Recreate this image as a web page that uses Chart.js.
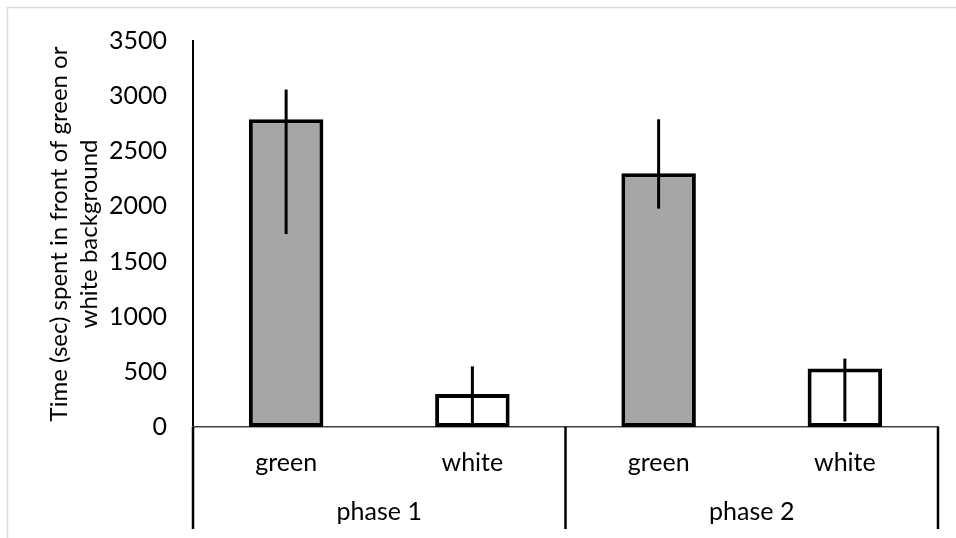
<!DOCTYPE html>
<html lang="en">
<head>
    <meta charset="UTF-8">
    <title>Time spent in front of green or white background</title>
    <script src="https://cdn.jsdelivr.net/npm/chart.js"></script>
    <style>
        body {
            margin: 0;
            background: #fff;
        }
        #chartBox {
            width: 956px;
            height: 538px;
        }
    </style>
</head>
<body>
    <div id="chartBox"><canvas id="bgChart"></canvas></div>

    <script>
        // data
        const categories = ['green', 'white', 'green', 'white'];
        const phases = ['phase 1', 'phase 2'];
        const meanTime = [2790, 300, 2300, 530];
        const errLow = [1750, 0, 1980, 50];
        const errHigh = [3060, 550, 2790, 620];
        const yTicks = [0, 500, 1000, 1500, 2000, 2500, 3000, 3500];
        const yTitle = ['Time (sec) spent in front of green or', 'white background'];

        const barColors = categories.map(c => c === 'green' ? '#a6a6a6' : '#ffffff');
        const font = { family: 'Lato', size: 25 };

        // light grey frame of the chart area
        const framePlugin = {
            id: 'frame',
            beforeDraw(chart) {
                const c = chart.ctx;
                c.save();
                c.fillStyle = '#fff';
                c.fillRect(0, 0, chart.width, chart.height);
                c.strokeStyle = '#d9d9d9';
                c.lineWidth = 1.5;
                c.strokeRect(7.5, 7.5, chart.width + 20, chart.height + 20);
                c.restore();
            }
        };

        // vertical error lines, no caps
        const errorPlugin = {
            id: 'errorLines',
            afterDatasetsDraw(chart) {
                const c = chart.ctx;
                const x = chart.scales.x, y = chart.scales.y;
                c.save();
                c.strokeStyle = '#000';
                c.lineWidth = 3;
                meanTime.forEach((v, i) => {
                    const px = x.getPixelForValue(i);
                    c.beginPath();
                    c.moveTo(px, y.getPixelForValue(errLow[i]));
                    c.lineTo(px, y.getPixelForValue(errHigh[i]));
                    c.stroke();
                });
                c.restore();
            }
        };

        // group separators under the axis (phase 1 | phase 2)
        const groupPlugin = {
            id: 'groups',
            afterDraw(chart) {
                const c = chart.ctx;
                const x = chart.scales.x;
                const top = chart.chartArea.bottom;
                const bottom = chart.scales.x2.bottom - 9;
                const per = categories.length / phases.length;
                const xs = [x.left];
                for (let g = 1; g < phases.length; g++) {
                    xs.push((x.getPixelForValue(g * per - 1) + x.getPixelForValue(g * per)) / 2);
                }
                xs.push(x.right);
                c.save();
                c.strokeStyle = '#000';
                c.lineWidth = 2.5;
                xs.forEach(px => {
                    c.beginPath();
                    c.moveTo(px, top);
                    c.lineTo(px, bottom);
                    c.stroke();
                });
                c.restore();
            }
        };

        const ctx = document.getElementById('bgChart').getContext('2d');
        new Chart(ctx, {
            type: 'bar',
            data: {
                labels: categories,
                datasets: [{
                    data: meanTime,
                    backgroundColor: barColors,
                    borderColor: '#000',
                    borderWidth: 4,
                    borderSkipped: false,
                    barPercentage: 0.4,
                    categoryPercentage: 1
                }]
            },
            options: {
                responsive: true,
                maintainAspectRatio: false,
                animation: false,
                layout: { padding: { top: 37, right: 18, left: 0, bottom: 0 } },
                plugins: {
                    legend: { display: false },
                    tooltip: { enabled: false }
                },
                scales: {
                    y: {
                        min: yTicks[0],
                        max: yTicks[yTicks.length - 1],
                        afterBuildTicks: s => { s.ticks = yTicks.map(v => ({ value: v })); },
                        afterFit: s => { s.width = 193; },
                        grid: { display: false, drawTicks: false },
                        border: { display: true, color: '#000', width: 2 },
                        ticks: { color: '#000', font: font, padding: 26, callback: v => String(v) },
                        title: {
                            display: true,
                            text: yTitle,
                            color: '#000',
                            font: { family: 'Lato', size: 24, lineHeight: 1.25 },
                            padding: { top: 44, bottom: 0 }
                        }
                    },
                    x: {
                        weight: 0,
                        afterFit: s => { s.height = 52; },
                        grid: { display: false, drawTicks: false },
                        border: { display: true, color: '#404040', width: 1.5 },
                        ticks: { color: '#000', font: font, padding: 21 }
                    },
                    x2: {
                        type: 'category',
                        position: 'bottom',
                        labels: phases,
                        offset: true,
                        weight: 1,
                        afterFit: s => { s.height = 59; },
                        grid: { display: false, drawTicks: false },
                        border: { display: false },
                        ticks: { color: '#000', font: font, padding: 18 }
                    }
                }
            },
            plugins: [framePlugin, errorPlugin, groupPlugin]
        });
    </script>
</body>
</html>
